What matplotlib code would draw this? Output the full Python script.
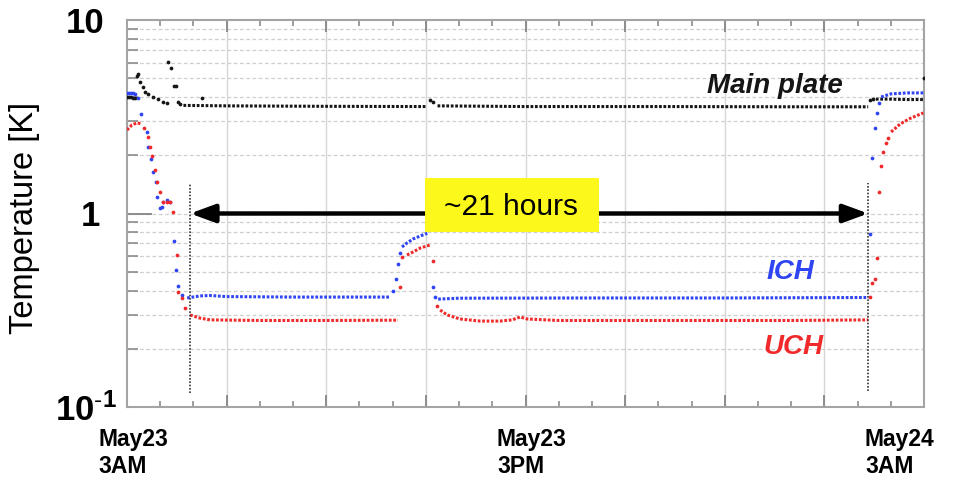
import numpy as np
import matplotlib
matplotlib.use("Agg")
import matplotlib.pyplot as plt
import matplotlib.transforms as mtransforms
from matplotlib.patches import Rectangle
from matplotlib.ticker import FixedLocator, FixedFormatter, NullFormatter

plt.rcParams['font.family'] = ['Liberation Sans', 'DejaVu Sans']
plt.rcParams['mathtext.fontset'] = 'custom'
plt.rcParams['mathtext.rm'] = 'Liberation Sans'
plt.rcParams['mathtext.bf'] = 'Liberation Sans:bold'

nan = np.nan

# Time axis: hours after May23 3AM
# Sparse readings during transitions (drawn as single dots)
main_t = [0.00, 0.06, 0.12, 0.18, 0.24, 0.30, 0.33, 0.39, 0.48, 0.54, 0.63, 0.78,
          0.93, 1.08, 1.20, 1.23, 1.33, 1.42, 1.48, 1.54, 1.60, 2.26, 9.13, 9.20,
          22.38, 22.47, 24.0]
main_k = [4.00, 4.00, 3.98, 3.96, 3.95, 5.14, 5.26, 4.78, 4.51, 4.25, 4.15, 4.00,
          3.91, 3.77, 3.73, 6.07, 5.65, 4.56, 4.56, 3.77, 3.68, 3.95, 3.86, 3.77,
          3.86, 3.91, 5.00]

ich_t = [0.00, 0.06, 0.12, 0.18, 0.24, 0.33, 0.42, 0.60, 0.63, 0.72, 0.78, 0.87,
         0.90, 0.99, 1.05, 1.08, 1.20, 1.30, 1.42, 1.48, 1.54, 1.66,
         8.01, 8.10, 8.16, 8.22, 9.22, 9.28,
         22.38, 22.44, 22.53, 22.59, 22.65]
ich_k = [4.20, 4.20, 4.20, 4.20, 4.15, 3.95, 3.27, 2.64, 2.21, 1.91, 1.64, 1.45,
         1.22, 1.07, 1.08, 1.15, 1.17, 1.15, 0.72, 0.51, 0.42, 0.379,
         0.397, 0.459, 0.548, 0.625, 0.417, 0.370,
         0.78, 1.94, 2.77, 3.31, 3.73]

uch_t = [0.51, 0.63, 0.69, 0.75, 0.84, 0.90, 0.99, 1.08, 1.20, 1.30, 1.39, 1.51,
         1.54, 1.66, 1.75, 8.22, 8.28, 9.22, 9.34,
         22.38, 22.44, 22.53, 22.59, 22.65, 22.71, 22.77, 22.86, 22.92]
uch_k = [2.77, 2.49, 2.21, 1.98, 1.68, 1.45, 1.29, 1.15, 1.15, 1.15, 1.02, 0.61,
         0.393, 0.366, 0.325, 0.417, 0.596, 0.569, 0.333,
         0.370, 0.437, 0.459, 0.589, 1.29, 1.76, 2.08, 2.31, 2.45]

# Densely sampled stretches (drawn as dotted runs), NaN separates runs
main_run_t = [1.70, 3.0, 6.0, 9.0, nan, 9.35, 12.0, 16.0, 20.0, 22.32, nan,
              22.55, 23.0, 23.5, 24.0]
main_run_k = [3.62, 3.60, 3.58, 3.57, nan, 3.60, 3.57, 3.57, 3.56, 3.56, nan,
              3.90, 3.90, 3.88, 3.88]

ich_run_t = [1.81, 2.2, 2.5, 3.0, 5.0, 7.92, nan, 8.28, 8.43, 8.61, 8.83, 9.04, nan,
             9.37, 10.0, 14.0, 18.0, 22.32, nan, 22.71, 23.0, 23.5, 24.0]
ich_run_k = [0.366, 0.375, 0.377, 0.372, 0.370, 0.370, nan, 0.671, 0.704, 0.738,
             0.765, 0.79, nan, 0.361, 0.365, 0.366, 0.366, 0.368, nan,
             4.00, 4.15, 4.20, 4.20]

uch_run_t = [0.0, 0.15, 0.30, 0.45, nan, 1.90, 2.2, 2.5, 4.0, 6.0, 8.16, nan,
             8.43, 8.61, 8.83, 9.04, 9.13, nan, 9.43, 9.64, 10.03, 10.63, 11.23,
             11.6, 11.84, 12.05, 13.0, 16.0, 20.0, 22.32, nan,
             23.01, 23.28, 23.58, 23.98]
uch_run_k = [2.70, 2.87, 2.94, 2.90, nan, 0.299, 0.288, 0.282, 0.280, 0.280, 0.281, nan,
             0.610, 0.632, 0.663, 0.680, 0.688, nan, 0.317, 0.299, 0.285, 0.278, 0.278,
             0.282, 0.292, 0.285, 0.280, 0.280, 0.280, 0.282, nan,
             2.64, 2.90, 3.10, 3.31]

# Hold period marked by the double arrow
hold_start = 1.90
hold_end = 22.32

x_labels = ['May23\n3AM', 'May23\n3PM', 'May24\n3AM']

BLACK = '#151515'
BLUE = '#2f44f2'
RED = '#f02a2a'

fig = plt.figure(figsize=(9.69, 4.91), dpi=100)
ax = fig.add_axes([127 / 969, 1 - 407 / 491, 797 / 969, 387 / 491])
ax.set_yscale('log')
ax.set_xlim(0, 24)
ax.set_ylim(0.1, 10)

# grid
for h in range(3, 24, 3):
    ax.axvline(h, color='#d6d6d6', lw=1.0, zorder=0)
for dec in (0.1, 1.0):
    for m in range(1, 10):
        v = dec * m
        if 0.1 < v < 10:
            ax.axhline(v, color='#cfcfcf', lw=0.9, ls=(0, (3, 2)), zorder=0)

run_style = dict(lw=2.2, ls=(0, (0.9, 0.55)), dash_capstyle='butt', zorder=3)
dot_style = dict(ls='none', marker='o', ms=2.7, mew=0, zorder=3)

ax.plot(main_run_t, main_run_k, color=BLACK, **run_style)
ax.plot(ich_run_t, ich_run_k, color=BLUE, **run_style)
ax.plot(uch_run_t, uch_run_k, color=RED, **run_style)
ax.plot(main_t, main_k, color=BLACK, **dot_style)
ax.plot(ich_t, ich_k, color=BLUE, **dot_style)
ax.plot(uch_t, uch_k, color=RED, **dot_style)

# start / end markers of the hold
for h, top, bot in ((hold_start, 1.44, 0.118), (hold_end, 1.44, 0.121)):
    ax.plot([h, h], [bot, top], color='#333333', lw=1.2, ls=(0, (1, 1)), zorder=4)

ax.annotate('', xy=(hold_end, 1.0), xytext=(hold_start, 1.0),
            arrowprops=dict(arrowstyle='<|-|>,head_length=0.6,head_width=0.22',
                            lw=3.2, color='black', mutation_scale=25,
                            shrinkA=0, shrinkB=0), zorder=5)

ax.add_patch(Rectangle((8.98, 0.80), 14.2 - 8.98, 1.52 - 0.80,
                       facecolor='#fcf81c', edgecolor='none', zorder=6))
ax.text(11.55, 1.08, '~21 hours', ha='center', va='center', fontsize=21.5,
        color='black', zorder=7)

ax.text(19.5, 4.55, 'Main plate', ha='center', va='center', fontsize=20,
        fontweight='bold', fontstyle='italic', color=BLACK, zorder=7)
ax.text(19.97, 0.50, 'ICH', ha='center', va='center', fontsize=20,
        fontweight='bold', fontstyle='italic', color=BLUE, zorder=7)
ax.text(20.06, 0.204, 'UCH', ha='center', va='center', fontsize=20,
        fontweight='bold', fontstyle='italic', color=RED, zorder=7)

# axes frame and ticks
for side in ('left', 'bottom', 'top', 'right'):
    ax.spines[side].set_color('#a4a4a4')
    ax.spines[side].set_linewidth(1.5)

ax.xaxis.set_major_locator(FixedLocator(list(range(0, 25, 3))))
ax.xaxis.set_minor_locator(FixedLocator(list(range(0, 25))))
ax.xaxis.set_major_formatter(NullFormatter())
ax.tick_params(axis='x', which='major', direction='in', length=8.5, width=1.4,
               color='#8c8c8c', top=True, bottom=True)
ax.tick_params(axis='x', which='minor', direction='in', length=4.3, width=1.2,
               color='#8c8c8c', top=True, bottom=True)

ax.yaxis.set_major_locator(FixedLocator([0.1, 1, 10]))
ax.yaxis.set_major_formatter(FixedFormatter([r'$\mathbf{10^{\text{-}1}}$', '1', '10']))
ax.yaxis.set_minor_locator(FixedLocator([d * m for d in (0.1, 1) for m in range(2, 10)]))
ax.yaxis.set_minor_formatter(NullFormatter())
ax.tick_params(axis='y', which='major', direction='in', length=18, width=1.4,
               color='#8c8c8c', pad=16, labelsize=25, left=True, right=False)
ax.tick_params(axis='y', which='minor', direction='in', length=8, width=1.2,
               color='#8c8c8c', left=True, right=False)
for lbl in ax.get_yticklabels():
    lbl.set_fontweight('bold')
shifts = [12, -5, 0]
for lbl, dx in zip(ax.get_yticklabels(), shifts):
    lbl.set_transform(lbl.get_transform() +
                      mtransforms.ScaledTranslation(dx / 100, 0, fig.dpi_scale_trans))

fig.text(25 / 969, 1 - 218 / 491, 'Temperature [K]', rotation=90, ha='center',
         va='center', fontsize=23.5)

for px, lab in zip((98, 497, 865), x_labels):
    fig.text(px / 969, 1 - 428 / 491, lab, ha='left', va='top', fontsize=16.5,
             fontweight='bold', linespacing=1.2)

fig.savefig('out.png', dpi=100, facecolor='white')
